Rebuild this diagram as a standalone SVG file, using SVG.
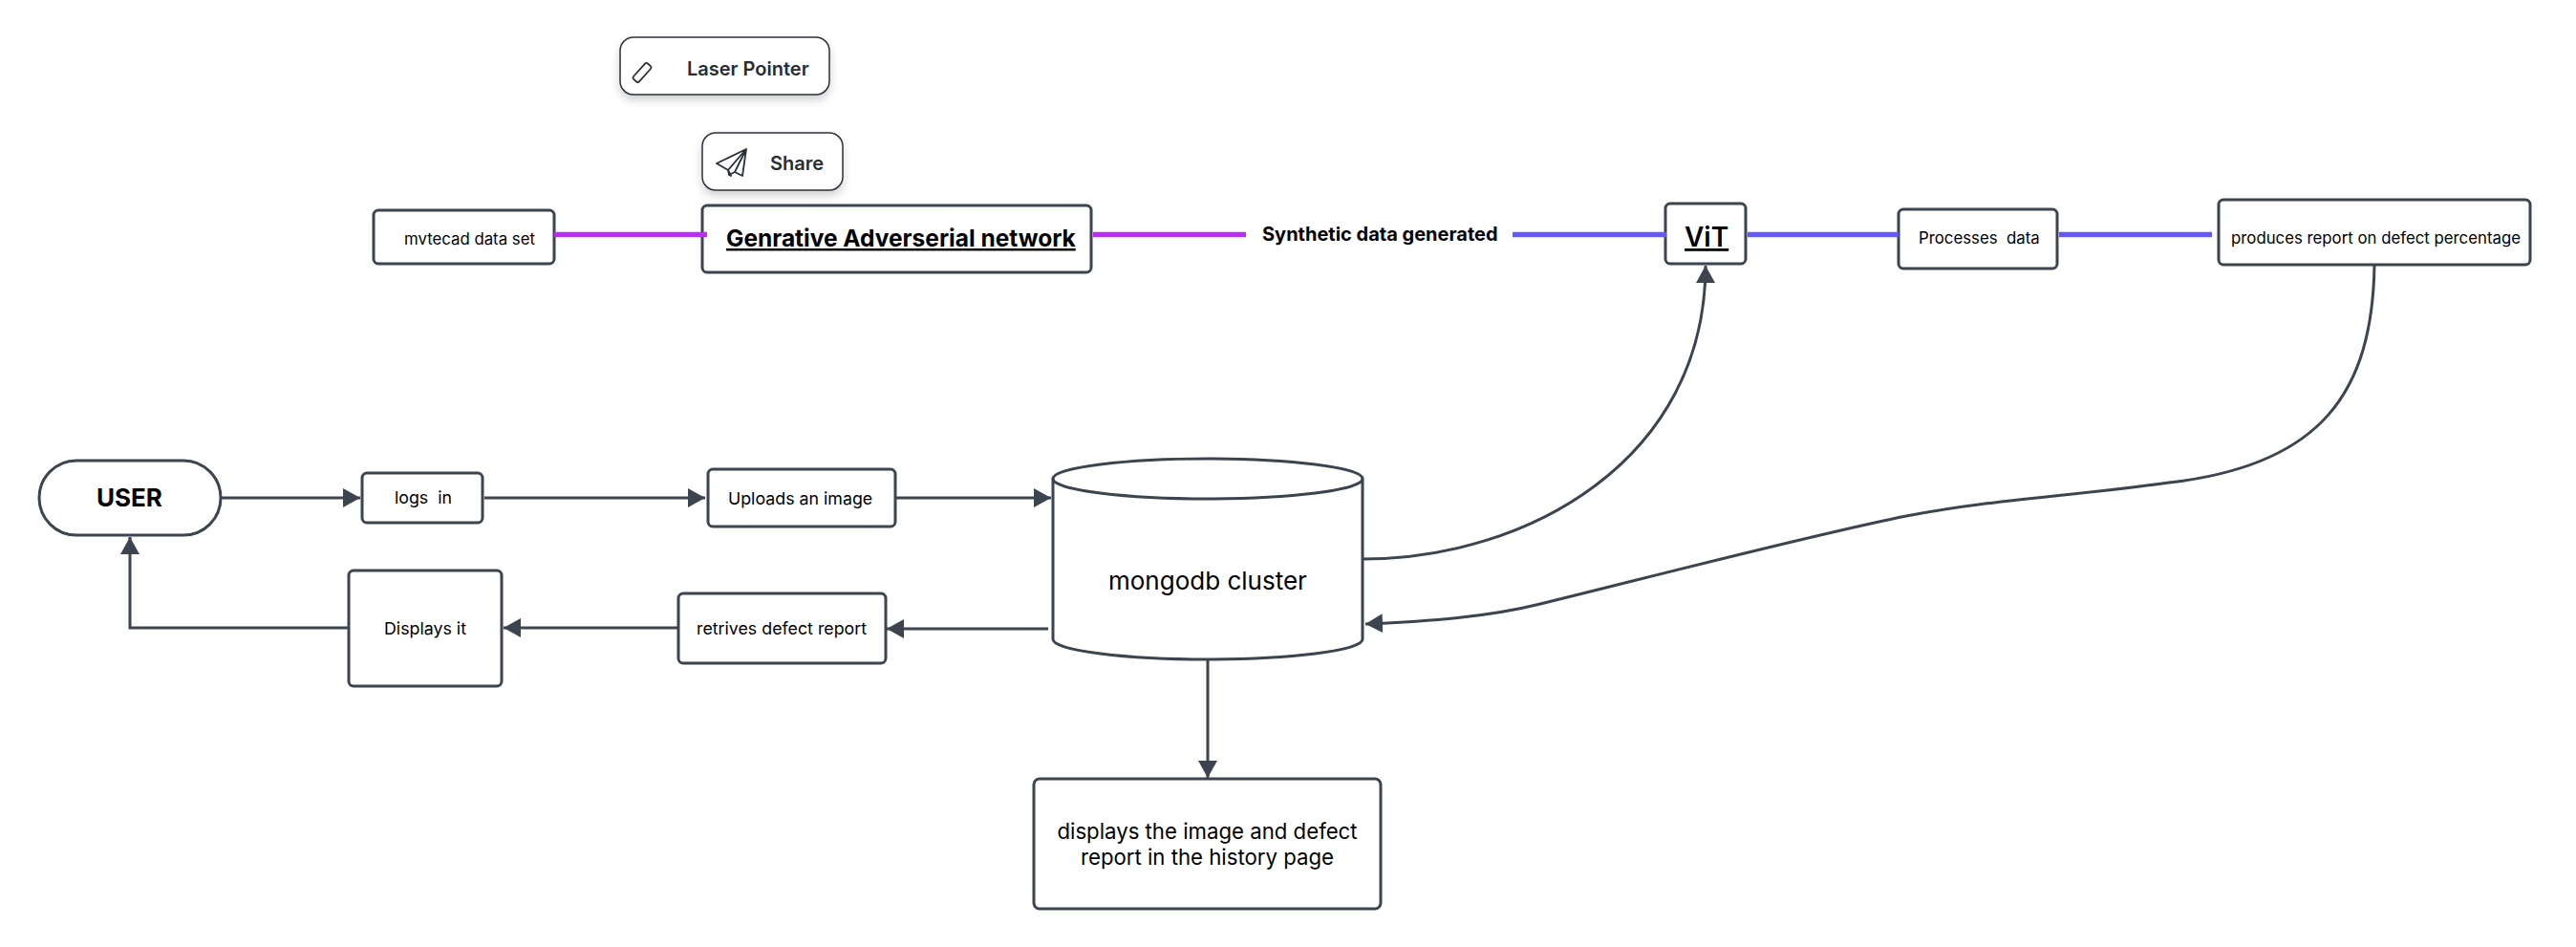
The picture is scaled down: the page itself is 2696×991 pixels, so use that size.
<svg xmlns="http://www.w3.org/2000/svg" width="2696" height="991" viewBox="0 0 2696 991">
<style>
text{font-family:Inter,"Noto Sans","Liberation Sans",sans-serif;fill:#000;white-space:pre}
.b{fill:#fff;stroke:#3c444f;stroke-width:3}
.c{fill:none;stroke:#3c444f;stroke-width:3}
.m{fill:none;stroke:#bb2cf5;stroke-width:5.500}
.v{fill:none;stroke:#6559fa;stroke-width:5.500}
.btn{fill:#fff;stroke:#2b303a;stroke-width:1.5;filter:url(#sh)}
.ic{fill:none;stroke:#2b303a;stroke-width:1.8;stroke-linejoin:round}
.t16{font-size:16.800px}
.t18{font-size:17.800px}
.bt{font-size:20px;font-weight:600;fill:#272c35}
</style>
<defs>
<filter id="sh" x="-20%" y="-30%" width="140%" height="170%"><feDropShadow dx="0" dy="5" stdDeviation="5" flood-color="#000" flood-opacity=".18"/></filter>
<marker id="a" markerUnits="userSpaceOnUse" markerWidth="18" markerHeight="20" refX="18" refY="10" orient="auto"><path d="M0 0L18 10L0 20Z" fill="#3c444f"/></marker>
</defs>
<g id="laser"><rect class="btn" x="649" y="39" width="219" height="60" rx="14"/><rect class="ic" x="-4" y="-11" width="8" height="22" rx="2" transform="translate(672 76) rotate(42)"/><text class="bt" x="719" y="79">Laser Pointer</text></g>
<g id="share"><rect class="btn" x="735" y="139" width="147" height="60" rx="14"/><path class="ic" d="M781 156L750 171L762 178L765 184L763 183L762 178L781 156L769 180L777 184L781 156M762 178L763 183L769 180"/><text class="bt" x="806" y="178">Share</text></g>
<g id="mvtecad"><rect class="b" x="391" y="220" width="189" height="56" rx="5"/><text class="t16" x="423" y="256">mvtecad data set</text></g>
<g id="gan"><rect class="b" x="735" y="215" width="407" height="70" rx="5"/><text x="760" y="258" font-size="24.500" font-weight="700" text-decoration="underline">Genrative Adverserial network</text></g>
<g id="synthetic"><text x="1321" y="252" font-size="20" font-weight="700">Synthetic data generated</text></g>
<g id="vit"><rect class="b" x="1743" y="213" width="84" height="63" rx="5"/><text x="1763" y="258" font-size="28" font-weight="600" text-decoration="underline">ViT</text></g>
<g id="processes"><rect class="b" x="1987" y="219" width="166" height="62" rx="5"/><text class="t16" x="2008" y="255">Processes  data</text></g>
<g id="produces"><rect class="b" x="2322" y="209" width="326" height="68" rx="5"/><text class="t16" x="2335" y="255">produces report on defect percentage</text></g>
<g id="user"><rect class="b" x="41" y="482" width="190" height="78" rx="39"/><text x="101" y="530" font-size="26" font-weight="700">USER</text></g>
<g id="logs"><rect class="b" x="379" y="495" width="126" height="52" rx="5"/><text class="t18" x="413" y="527">logs  in</text></g>
<g id="uploads"><rect class="b" x="741" y="491" width="196" height="60" rx="5"/><text class="t18" x="762" y="528">Uploads an image</text></g>
<g id="mongodb"><path class="b" d="M1102 501C1102 489 1180 480 1264 480C1348 480 1426 489 1426 501V669C1426 681 1348 690 1264 690C1180 690 1102 681 1102 669Z"/><path class="c" d="M1102 501C1102 513 1180 522 1264 522C1348 522 1426 513 1426 501"/><text x="1160" y="617" font-size="26">mongodb cluster</text></g>
<g id="retrives"><rect class="b" x="710" y="621" width="217" height="73" rx="5"/><text class="t18" x="729" y="664">retrives defect report</text></g>
<g id="displays"><rect class="b" x="365" y="597" width="160" height="121" rx="5"/><text class="t18" x="402" y="664">Displays it</text></g>
<g id="history"><rect class="b" x="1082" y="815" width="363" height="136" rx="6"/><text x="1263.500" y="878" font-size="22.200" text-anchor="middle">displays the image and defect</text><text x="1263.500" y="905" font-size="22.200" text-anchor="middle">report in the history page</text></g>
<g id="connectors">
<path class="m" d="M580 245.500H740"/>
<path class="m" d="M1144 245.500H1304"/>
<path class="v" d="M1583 245.500H1744"/>
<path class="v" d="M1829 245.500H1987"/>
<path class="v" d="M2155 245.500H2315"/>
<path class="c" marker-end="url(#a)" d="M232 521H377"/>
<path class="c" marker-end="url(#a)" d="M507 521H738"/>
<path class="c" marker-end="url(#a)" d="M938 521H1100"/>
<path class="c" marker-end="url(#a)" d="M1097 658H928"/>
<path class="c" marker-end="url(#a)" d="M710 657H527"/>
<path class="c" marker-end="url(#a)" d="M365 657H136V562"/>
<path class="c" marker-end="url(#a)" d="M1264 691V814"/>
<path class="c" marker-end="url(#a)" d="M1426 585C1600 585 1785 480 1785 278"/>
<path class="c" marker-end="url(#a)" d="M2485 277C2483 410 2430 487 2270 505C2170 519 2075 524 1995 540C1900 559 1750 598 1612 632C1560 645 1500 650 1429 653"/>
</g>
</svg>
